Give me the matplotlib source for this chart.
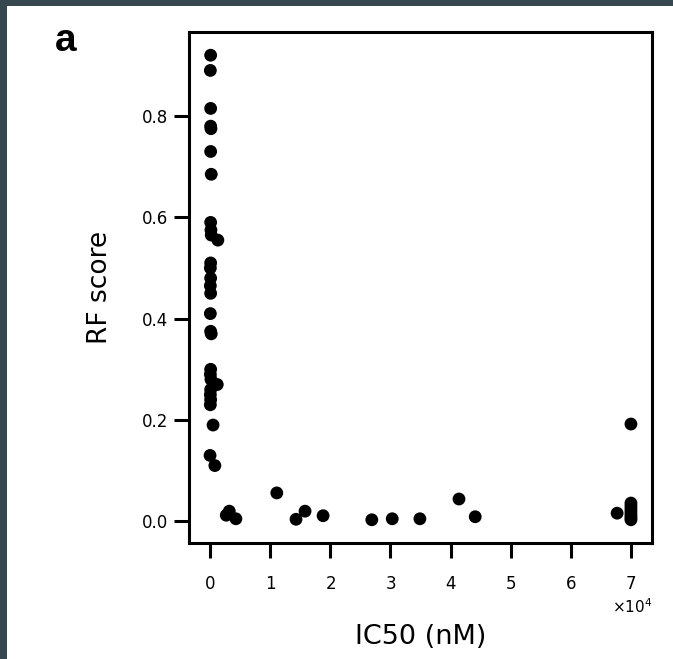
import matplotlib.pyplot as plt
from matplotlib.patches import Rectangle

# IC50 (nM) vs RF score
ic50_low = [100, 50, 100, 100, 150, 100, 200, 100, 150, 200, 1300, 100, 50,
            100, 50, 100, 50, 100, 200, 100, 50, 150, 1200, 100, 50, 100, 50,
            500, 0, 800]
rf_low = [0.92, 0.89, 0.815, 0.78, 0.775, 0.73, 0.685, 0.59, 0.575, 0.565,
          0.555, 0.51, 0.50, 0.48, 0.465, 0.45, 0.41, 0.375, 0.37, 0.30, 0.29,
          0.28, 0.27, 0.26, 0.25, 0.24, 0.23, 0.19, 0.13, 0.11]

ic50_mid = [2700, 3200, 4300, 11100, 14300, 15800, 18800, 26900, 30300,
            34900, 41400, 44100]
rf_mid = [0.012, 0.02, 0.005, 0.056, 0.004, 0.02, 0.011, 0.003, 0.005,
          0.005, 0.044, 0.009]

ic50_high = [67700, 70000, 70000, 70000, 70000, 70000, 70000, 70000, 70000]
rf_high = [0.016, 0.192, 0.036, 0.03, 0.024, 0.018, 0.012, 0.007, 0.003]

ic50 = ic50_low + ic50_mid + ic50_high
rf = rf_low + rf_mid + rf_high

fig = plt.figure(figsize=(6.73, 6.59), dpi=100)
fig.patch.set_facecolor('#37474f')
fig.add_artist(Rectangle((7 / 673, 0), 1, 1 - 6 / 659,
                         transform=fig.transFigure, facecolor='white',
                         edgecolor='none', zorder=-1))

ax = fig.add_axes([189 / 673, 1 - 543 / 659, 463 / 673, 511 / 659])
ax.scatter(ic50, rf, s=85, color='black', edgecolors='none')

ax.set_yticks([0.0, 0.2, 0.4, 0.6, 0.8])
ax.set_xticks(range(0, 70001, 10000))
ax.ticklabel_format(axis='x', style='sci', scilimits=(4, 4), useMathText=True)
ax.xaxis.get_offset_text().set_fontsize(11)

for sp in ax.spines.values():
    sp.set_linewidth(2.2)
ax.tick_params(width=2.2, length=11, labelsize=12)
ax.tick_params(axis='x', pad=12)
ax.tick_params(axis='y', pad=4)

ax.set_xlabel('IC50 (nM)', fontsize=19.5, labelpad=22)
ax.set_ylabel('RF score', fontsize=19, labelpad=21)

fig.text(66 / 673, 1 - 41 / 659, 'a', fontsize=28, fontweight='bold',
         family='Liberation Sans', ha='center', va='center')

fig.savefig('out.png', dpi=100, facecolor=fig.get_facecolor())
